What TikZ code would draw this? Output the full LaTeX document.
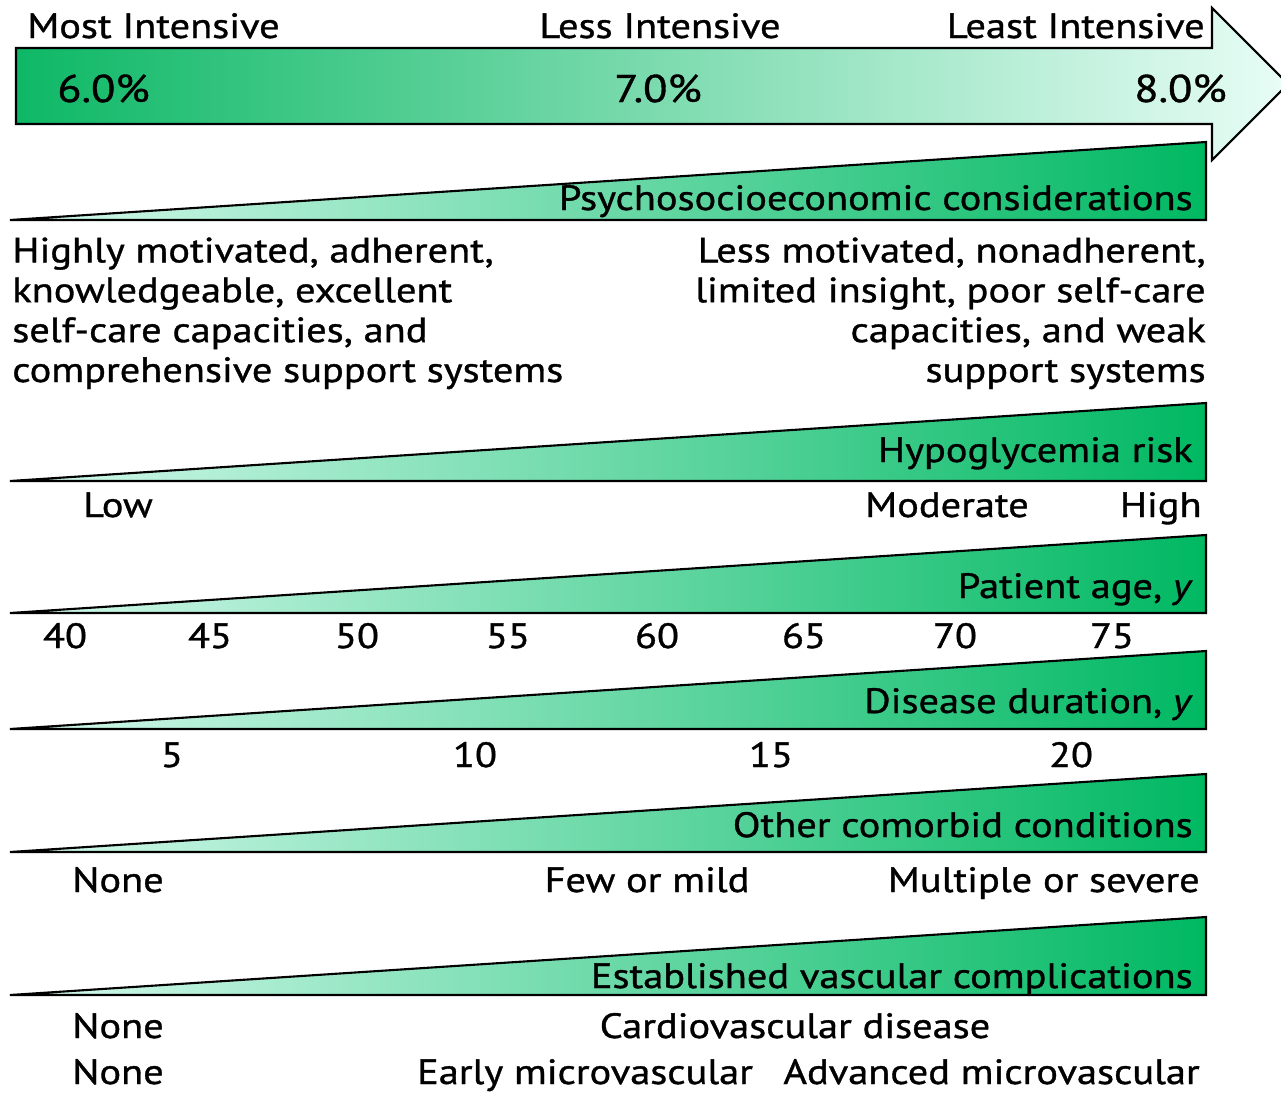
\documentclass[tikz,border=0pt]{standalone}
\usepackage{fontspec}
\setmainfont{PT Sans}[FakeStretch=1.15, FakeBold=1]
\usepackage{tikz}
\usetikzlibrary{arrows.meta, positioning, calc}
\definecolor{goalgreen}{RGB}{14, 184, 102}
\definecolor{goalmint}{RGB}{232, 253, 246}
\definecolor{wedgegreen}{RGB}{0, 184, 98}
\definecolor{wedgemint}{RGB}{215, 250, 238}

\begin{document}
\begin{tikzpicture}[x=0.02cm, y=-0.02cm,
    every node/.style={font=\fontsize{20}{22.7}\selectfont, inner sep=0pt},
    goalarrow/.style={draw=black, line width=1.2pt, left color=goalgreen, right color=goalmint},
    wedge/.style={draw=black, line width=1.2pt, left color=wedgemint, right color=wedgegreen},
    pct/.style={font=\fontsize{22}{24}\selectfont},
    scalelab/.style={anchor=base}
  ]
  \useasboundingbox (0,0) rectangle (1281,1092);

  \draw[goalarrow] (16,48) -- (1212,48) -- (1212,8) -- (1288,84) -- (1212,160)
    -- (1212,124) -- (16,124) -- cycle;
  \node[anchor=base west] (most) at (27,38) {Most Intensive};
  \node[anchor=base] (less) at (660,38) {Less Intensive};
  \node[anchor=base east] (least) at (1205,38) {Least Intensive};
  \node[pct, anchor=base west] (six) at (57,102) {6.0\%};
  \node[pct, anchor=base] (seven) at (658,102) {7.0\%};
  \node[pct, anchor=base east] (eight) at (1227,102) {8.0\%};

  \foreach \b/\t/\lab/\nm in {220/210/Psychosocioeconomic considerations/psy,
      481/462/Hypoglycemia risk/hypo,
      613/598/{Patient age, \textit{y}}/age,
      729/713/{Disease duration, \textit{y}}/dur,
      852/837/Other comorbid conditions/comorb,
      995/988/Established vascular complications/vasc} {
    \draw[wedge] (10,\b) -- (1206,\b-78) -- (1206,\b) -- cycle;
    \node[anchor=base east] (\nm) at (1193,\t) {\lab};
  }

  \node[anchor=base west, align=left] (motiv) at (12,382)
    {Highly motivated, adherent,\\knowledgeable, excellent\\self-care capacities, and\\comprehensive support systems};
  \node[anchor=base east, align=right] (unmotiv) at (1206,382)
    {Less motivated, nonadherent,\\limited insight, poor self-care\\capacities, and weak\\support systems};

  \node[scalelab] (low) at (118,517) {Low};
  \node[scalelab] (moderate) at (947,517) {Moderate};
  \node[anchor=base east] (high) at (1202,517) {High};

  \foreach \a/\x in {40/65, 45/210, 50/357, 55/508, 60/657, 65/804, 70/955, 75/1112}
    \node[scalelab] (age\a) at (\x,648) {\a};

  \foreach \d/\x in {5/172, 10/475, 15/771, 20/1071}
    \node[scalelab] (dur\d) at (\x,767) {\d};

  \node[scalelab] (nonecomorb) at (118,892) {None};
  \node[scalelab] (few) at (647,892) {Few or mild};
  \node[anchor=base east] (multiple) at (1200,892) {Multiple or severe};

  \node[scalelab] (nonecvd) at (118,1038) {None};
  \node[scalelab] (cvd) at (795,1038) {Cardiovascular disease};
  \node[scalelab] (nonemicro) at (118,1084) {None};
  \node[scalelab] (early) at (585,1084) {Early microvascular};
  \node[anchor=base east] (advanced) at (1200,1084) {Advanced microvascular};
\end{tikzpicture}
\end{document}
